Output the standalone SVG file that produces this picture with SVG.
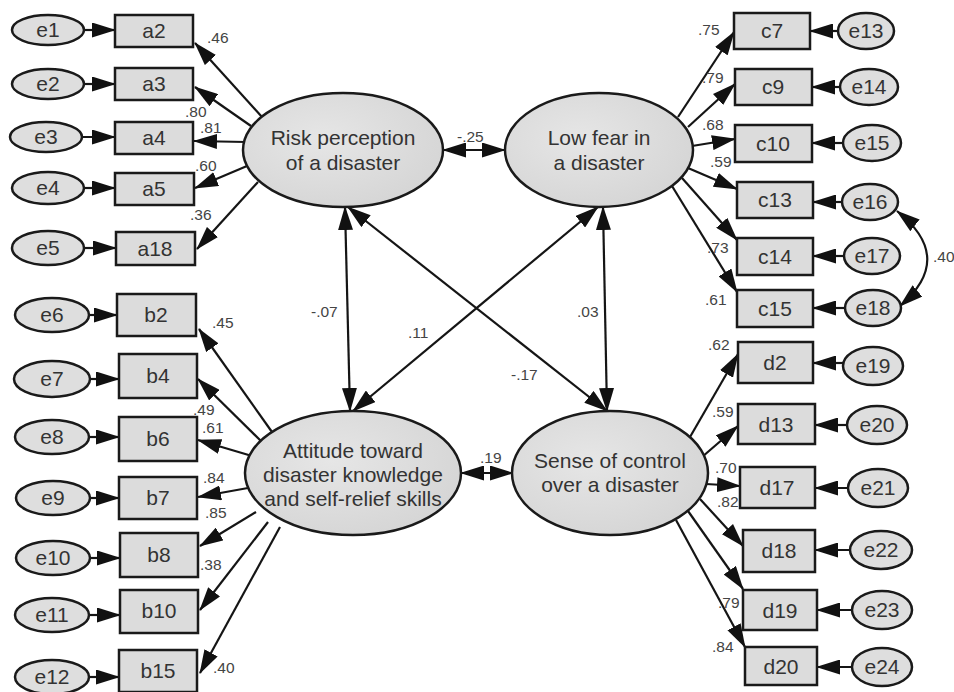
<svg xmlns="http://www.w3.org/2000/svg" width="954" height="692" viewBox="0 0 954 692">
<defs>
<marker id="ah" viewBox="0 0 24 15" refX="23" refY="7.5" markerWidth="24" markerHeight="15" markerUnits="userSpaceOnUse" orient="auto-start-reverse"><path d="M0,0 L24,7.5 L0,15 z" fill="#111"/></marker>
<radialGradient id="lg" cx="0.4" cy="0.4" r="0.7"><stop offset="0" stop-color="#e6e6e6"/><stop offset="1" stop-color="#d4d4d4"/></radialGradient>
</defs>
<style>
.ln{stroke:#151515;stroke-width:2.2;fill:none;marker-end:url(#ah)}
.dl{stroke:#151515;stroke-width:2.2;fill:none;marker-end:url(#ah);marker-start:url(#ah)}
.rc{fill:#dcdcdc;stroke:#1a1a1a;stroke-width:2.5}
.er{fill:#dedede;stroke:#1a1a1a;stroke-width:2.5}
.lt{fill:url(#lg);stroke:#1a1a1a;stroke-width:2.5}
.t{font-family:"Liberation Sans",Arial,sans-serif;font-size:21px;fill:#333;text-anchor:middle}
.c{font-family:"Liberation Sans",Arial,sans-serif;font-size:15.5px;fill:#444}
</style>
<rect width="954" height="692" fill="#fff"/>
<g id="connectors">
<path class="ln" d="M84,30 L115,30"/>
<path class="ln" d="M84,84 L115,84"/>
<path class="ln" d="M82,137 L115,137"/>
<path class="ln" d="M84,188 L115,188"/>
<path class="ln" d="M84,248 L116,248"/>
<path class="ln" d="M89,315 L117,315"/>
<path class="ln" d="M90,379 L119,379"/>
<path class="ln" d="M89,437 L119,437"/>
<path class="ln" d="M90,498 L119,498"/>
<path class="ln" d="M90,558 L120,558"/>
<path class="ln" d="M89,615 L120,615"/>
<path class="ln" d="M89,677 L119,677"/>
<path class="ln" d="M838,31 L810,31"/>
<path class="ln" d="M840,87 L812,87"/>
<path class="ln" d="M843,143 L812,143"/>
<path class="ln" d="M842,202 L813,202"/>
<path class="ln" d="M844,256 L813,256"/>
<path class="ln" d="M845,308 L813,308"/>
<path class="ln" d="M843,363 L813,363"/>
<path class="ln" d="M847,425 L815,425"/>
<path class="ln" d="M848,488 L815,488"/>
<path class="ln" d="M850,550 L815,550"/>
<path class="ln" d="M852,610 L817,610"/>
<path class="ln" d="M852,667 L817,667"/>
<path class="ln" d="M262,117 L195,43"/>
<path class="ln" d="M251,126 L195,87"/>
<path class="ln" d="M246,142 L194,141"/>
<path class="ln" d="M247,166 L195,188"/>
<path class="ln" d="M258,182 L197,249"/>
<path class="ln" d="M272,432 L199,329"/>
<path class="ln" d="M262,442 L198,379"/>
<path class="ln" d="M252,456 L198,440"/>
<path class="ln" d="M248,488 L198,497"/>
<path class="ln" d="M256,512 L200,546"/>
<path class="ln" d="M268,522 L200,610"/>
<path class="ln" d="M280,527 L200,673"/>
<path class="ln" d="M678,117 L734,32"/>
<path class="ln" d="M688,127 L735,84"/>
<path class="ln" d="M692,146 L735,139"/>
<path class="ln" d="M688,168 L737,189"/>
<path class="ln" d="M682,178 L737,240"/>
<path class="ln" d="M672,186 L737,292"/>
<path class="ln" d="M690,437 L738,354"/>
<path class="ln" d="M702,457 L738,426"/>
<path class="ln" d="M706,484 L740,486"/>
<path class="ln" d="M700,499 L743,546"/>
<path class="ln" d="M688,511 L743,589"/>
<path class="ln" d="M676,520 L745,647"/>
<path class="dl" d="M443,150 L505,150"/>
<path class="dl" d="M345,207 L350,411"/>
<path class="dl" d="M603,207 L607,411"/>
<path class="dl" d="M353,411 L598,207"/>
<path class="dl" d="M348,207 L607,411"/>
<path class="dl" d="M461,473 L513,473"/>
<path class="dl" d="M897,211 Q956,258 900,306"/>
</g>
<g id="latent-risk"><ellipse class="lt" cx="343" cy="150" rx="100" ry="57"/><text class="t" x="343" y="145">Risk perception</text><text class="t" x="343" y="170">of a disaster</text></g>
<g id="latent-fear"><ellipse class="lt" cx="599" cy="150" rx="94" ry="57"/><text class="t" x="599" y="145">Low fear in</text><text class="t" x="599" y="170">a disaster</text></g>
<g id="latent-attitude"><ellipse class="lt" cx="353" cy="473" rx="108" ry="62"/><text class="t" x="353" y="458">Attitude toward</text><text class="t" x="353" y="482">disaster knowledge</text><text class="t" x="353" y="506">and self-relief skills</text></g>
<g id="latent-sense"><ellipse class="lt" cx="610" cy="473" rx="98" ry="62"/><text class="t" x="610" y="468">Sense of control</text><text class="t" x="610" y="492">over a disaster</text></g>
<g id="a2"><rect class="rc" x="115" y="15" width="78" height="32"/><text class="t" x="154" y="38">a2</text></g>
<g id="a3"><rect class="rc" x="115" y="68" width="78" height="32"/><text class="t" x="154" y="91">a3</text></g>
<g id="a4"><rect class="rc" x="115" y="122" width="78" height="32"/><text class="t" x="154" y="145">a4</text></g>
<g id="a5"><rect class="rc" x="115" y="173" width="79" height="32"/><text class="t" x="154" y="196">a5</text></g>
<g id="a18"><rect class="rc" x="116" y="232" width="79" height="33"/><text class="t" x="155" y="256">a18</text></g>
<g id="b2"><rect class="rc" x="117" y="294" width="79" height="42"/><text class="t" x="156" y="322">b2</text></g>
<g id="b4"><rect class="rc" x="119" y="354" width="78" height="44"/><text class="t" x="158" y="383">b4</text></g>
<g id="b6"><rect class="rc" x="119" y="417" width="78" height="44"/><text class="t" x="158" y="446">b6</text></g>
<g id="b7"><rect class="rc" x="119" y="477" width="78" height="42"/><text class="t" x="158" y="505">b7</text></g>
<g id="b8"><rect class="rc" x="120" y="533" width="78" height="44"/><text class="t" x="159" y="562">b8</text></g>
<g id="b10"><rect class="rc" x="120" y="590" width="78" height="43"/><text class="t" x="159" y="618">b10</text></g>
<g id="b15"><rect class="rc" x="119" y="650" width="78" height="42"/><text class="t" x="158" y="678">b15</text></g>
<g id="c7"><rect class="rc" x="734" y="13" width="76" height="36"/><text class="t" x="772" y="38">c7</text></g>
<g id="c9"><rect class="rc" x="735" y="69" width="77" height="36"/><text class="t" x="773" y="94">c9</text></g>
<g id="c10"><rect class="rc" x="735" y="125" width="77" height="37"/><text class="t" x="773" y="151">c10</text></g>
<g id="c13"><rect class="rc" x="737" y="182" width="76" height="36"/><text class="t" x="775" y="207">c13</text></g>
<g id="c14"><rect class="rc" x="737" y="238" width="76" height="37"/><text class="t" x="775" y="264">c14</text></g>
<g id="c15"><rect class="rc" x="737" y="290" width="76" height="37"/><text class="t" x="775" y="316">c15</text></g>
<g id="d2"><rect class="rc" x="738" y="342" width="75" height="41"/><text class="t" x="775" y="370">d2</text></g>
<g id="d13"><rect class="rc" x="738" y="404" width="77" height="40"/><text class="t" x="776" y="432">d13</text></g>
<g id="d17"><rect class="rc" x="740" y="467" width="75" height="41"/><text class="t" x="777" y="495">d17</text></g>
<g id="d18"><rect class="rc" x="743" y="530" width="72" height="42"/><text class="t" x="779" y="558">d18</text></g>
<g id="d19"><rect class="rc" x="743" y="590" width="74" height="40"/><text class="t" x="780" y="618">d19</text></g>
<g id="d20"><rect class="rc" x="745" y="647" width="72" height="38"/><text class="t" x="781" y="674">d20</text></g>
<g id="e1"><ellipse class="er" cx="48" cy="30" rx="36" ry="15"/><text class="t" x="48" y="37">e1</text></g>
<g id="e2"><ellipse class="er" cx="48" cy="84" rx="36" ry="15"/><text class="t" x="48" y="91">e2</text></g>
<g id="e3"><ellipse class="er" cx="46" cy="137" rx="36" ry="15"/><text class="t" x="46" y="144">e3</text></g>
<g id="e4"><ellipse class="er" cx="48" cy="188" rx="36" ry="16"/><text class="t" x="48" y="195">e4</text></g>
<g id="e5"><ellipse class="er" cx="48" cy="248" rx="36" ry="17"/><text class="t" x="48" y="255">e5</text></g>
<g id="e6"><ellipse class="er" cx="52" cy="315" rx="37" ry="17"/><text class="t" x="52" y="322">e6</text></g>
<g id="e7"><ellipse class="er" cx="52" cy="379" rx="38" ry="18"/><text class="t" x="52" y="386">e7</text></g>
<g id="e8"><ellipse class="er" cx="52" cy="437" rx="37" ry="17"/><text class="t" x="52" y="444">e8</text></g>
<g id="e9"><ellipse class="er" cx="53" cy="498" rx="37" ry="17"/><text class="t" x="53" y="505">e9</text></g>
<g id="e10"><ellipse class="er" cx="53" cy="558" rx="37" ry="17"/><text class="t" x="53" y="565">e10</text></g>
<g id="e11"><ellipse class="er" cx="52" cy="615" rx="37" ry="17"/><text class="t" x="52" y="622">e11</text></g>
<g id="e12"><ellipse class="er" cx="52" cy="677" rx="37" ry="17"/><text class="t" x="52" y="684">e12</text></g>
<g id="e13"><ellipse class="er" cx="866" cy="31" rx="28" ry="18"/><text class="t" x="866" y="38">e13</text></g>
<g id="e14"><ellipse class="er" cx="869" cy="87" rx="29" ry="18"/><text class="t" x="869" y="94">e14</text></g>
<g id="e15"><ellipse class="er" cx="872" cy="143" rx="29" ry="18"/><text class="t" x="872" y="150">e15</text></g>
<g id="e16"><ellipse class="er" cx="870" cy="202" rx="28" ry="18"/><text class="t" x="870" y="209">e16</text></g>
<g id="e17"><ellipse class="er" cx="872" cy="256" rx="28" ry="18"/><text class="t" x="872" y="263">e17</text></g>
<g id="e18"><ellipse class="er" cx="873" cy="308" rx="28" ry="18"/><text class="t" x="873" y="315">e18</text></g>
<g id="e19"><ellipse class="er" cx="873" cy="366" rx="30" ry="19"/><text class="t" x="873" y="373">e19</text></g>
<g id="e20"><ellipse class="er" cx="877" cy="425" rx="30" ry="19"/><text class="t" x="877" y="432">e20</text></g>
<g id="e21"><ellipse class="er" cx="878" cy="488" rx="30" ry="19"/><text class="t" x="878" y="495">e21</text></g>
<g id="e22"><ellipse class="er" cx="881" cy="550" rx="31" ry="19"/><text class="t" x="881" y="557">e22</text></g>
<g id="e23"><ellipse class="er" cx="882" cy="610" rx="30" ry="19"/><text class="t" x="882" y="617">e23</text></g>
<g id="e24"><ellipse class="er" cx="882" cy="667" rx="30" ry="19"/><text class="t" x="882" y="674">e24</text></g>
<g id="coefficients">
<text class="c" x="207" y="43">.46</text>
<text class="c" x="185" y="117">.80</text>
<text class="c" x="200" y="133">.81</text>
<text class="c" x="195" y="171">.60</text>
<text class="c" x="190" y="220">.36</text>
<text class="c" x="212" y="328">.45</text>
<text class="c" x="193" y="415">.49</text>
<text class="c" x="202" y="433">.61</text>
<text class="c" x="203" y="483">.84</text>
<text class="c" x="205" y="518">.85</text>
<text class="c" x="200" y="570">.38</text>
<text class="c" x="213" y="673">.40</text>
<text class="c" x="457" y="142">-.25</text>
<text class="c" x="311" y="317">-.07</text>
<text class="c" x="577" y="317">.03</text>
<text class="c" x="408" y="338">.11</text>
<text class="c" x="511" y="380">-.17</text>
<text class="c" x="480" y="463">.19</text>
<text class="c" x="698" y="35">.75</text>
<text class="c" x="702" y="83">.79</text>
<text class="c" x="702" y="130">.68</text>
<text class="c" x="710" y="167">.59</text>
<text class="c" x="707" y="253">.73</text>
<text class="c" x="705" y="305">.61</text>
<text class="c" x="933" y="262">.40</text>
<text class="c" x="708" y="350">.62</text>
<text class="c" x="712" y="417">.59</text>
<text class="c" x="715" y="473">.70</text>
<text class="c" x="717" y="507">.82</text>
<text class="c" x="718" y="608">.79</text>
<text class="c" x="712" y="652">.84</text>
</g>
</svg>
